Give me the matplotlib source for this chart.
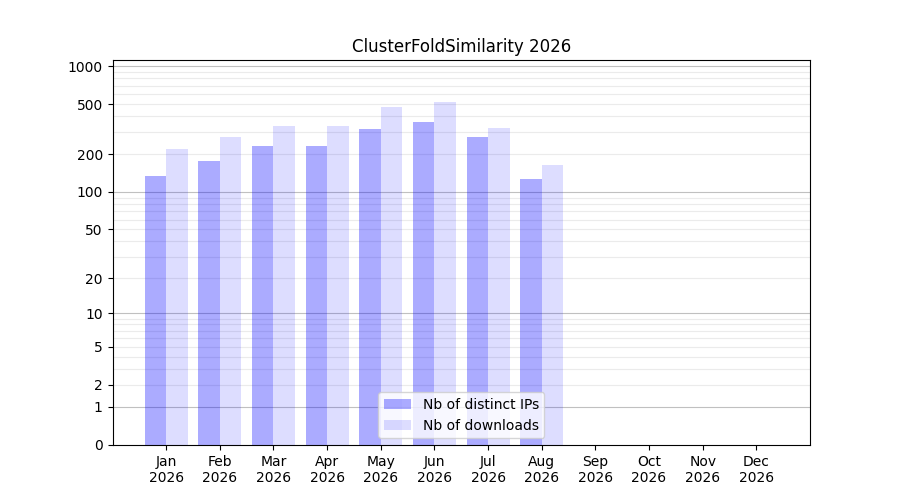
import numpy as np
import matplotlib
matplotlib.use("Agg")
import matplotlib.pyplot as plt

months = ["Jan", "Feb", "Mar", "Apr", "May", "Jun", "Jul", "Aug", "Sep", "Oct", "Nov", "Dec"]
year = "2026"
ips = [134, 176, 232, 232, 317, 360, 273, 127, 0, 0, 0, 0]
downloads = [220, 273, 334, 334, 473, 519, 323, 164, 0, 0, 0, 0]
ytick_vals = [0, 1, 2, 5, 10, 20, 50, 100, 200, 500, 1000]

fig, ax = plt.subplots(figsize=(9, 5), dpi=100)

def fwd(x):
    return np.log10(1 + np.asarray(x, dtype=float))

def inv(y):
    return 10 ** np.asarray(y, dtype=float) - 1

ax.set_yscale('function', functions=(fwd, inv))

x = np.arange(1, len(months) + 1)
w = 0.4
ax.bar(x - w / 2, ips, width=w, color='blue', alpha=0.33, label='Nb of distinct IPs', zorder=2)
ax.bar(x + w / 2, downloads, width=w, color='blue', alpha=0.135, label='Nb of downloads', zorder=2)

# grid lines
for dec in [1, 10, 100]:
    for m in range(2, 10):
        ax.axhline(m * dec, color='#ebebeb', lw=0.8, zorder=1)
for g in [1, 10, 100, 1000]:
    ax.axhline(g, color='#c0c0c0', lw=0.8, zorder=1)

ax.set_yticks(ytick_vals)
ax.set_yticklabels([str(v) for v in ytick_vals])
ax.minorticks_off()
ax.set_ylim(0, 1117)
ax.set_xlim(0, 13)
ax.set_xticks(x)
ax.set_xticklabels([f"{m}\n{year}" for m in months])
ax.set_title("ClusterFoldSimilarity 2026")
ax.legend(loc='lower center')

fig.savefig("out.png", dpi=100)
